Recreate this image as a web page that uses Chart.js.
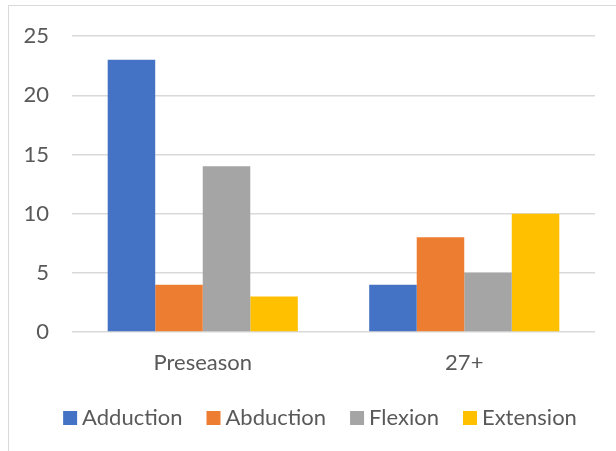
<!DOCTYPE html>
<html>
<head>
<meta charset="utf-8">
<script src="https://cdn.jsdelivr.net/npm/chart.js@4/dist/chart.umd.min.js"></script>
<style>
  html, body { margin: 0; padding: 0; background: #fff; }
  #wrap { position: relative; width: 616px; height: 451px; overflow: hidden; }
  #frame { position: absolute; left: 8px; top: 5px; width: 620px; height: 460px;
           border: 1px solid #d9d9d9; box-sizing: border-box; }
  canvas { position: absolute; left: 0; top: 0; }
</style>
</head>
<body>
<div id="wrap">
  <div id="frame"></div>
  <canvas id="c" width="616" height="451"></canvas>
</div>
<script>
const categories = ["Preseason", "27+"];
const seriesNames = ["Adduction", "Abduction", "Flexion", "Extension"];
const adduction = [23, 4];
const abduction = [4, 8];
const flexion = [14, 5];
const extension = [3, 10];
const seriesColors = ["#4472C4", "#ED7D31", "#A5A5A5", "#FFC000"];

const values = [adduction, abduction, flexion, extension];
const FONT = "Lato, 'Open Sans', sans-serif";
const TEXT = "#595959";

// Legend swatch: a 14px square placed so the label sits close to it.
function swatch(color) {
  const cv = document.createElement("canvas");
  cv.width = 36;
  cv.height = 14;
  const g = cv.getContext("2d");
  g.fillStyle = color;
  g.fillRect(14, 0, 14, 14);
  return cv;
}
const swatches = seriesColors.map(swatch);

const PLOT_BOTTOM = 332;
const PAD_BOTTOM = 12;
const LEGEND_SHIFT = 11;

// Centre the legend on the whole frame rather than on the padded area.
const legendShift = {
  id: "legendShift",
  afterLayout(chart) {
    const lg = chart.legend;
    if (lg) { lg.left += LEGEND_SHIFT; lg.right += LEGEND_SHIFT; }
  }
};

new Chart(document.getElementById("c"), {
  type: "bar",
  data: {
    labels: categories,
    datasets: seriesNames.map((name, i) => ({
      label: name,
      data: values[i],
      backgroundColor: seriesColors[i],
      borderWidth: 0,
      categoryPercentage: 0.727,
      barPercentage: 1.0
    }))
  },
  plugins: [legendShift],
  options: {
    responsive: false,
    animation: false,
    layout: { padding: { left: 23, right: 21, top: 21, bottom: PAD_BOTTOM } },
    plugins: {
      legend: {
        position: "bottom",
        labels: {
          font: { family: FONT, size: 22 },
          color: TEXT,
          usePointStyle: true,
          boxWidth: 8,
          boxHeight: 14,
          padding: 24,
          generateLabels(chart) {
            const items = Chart.defaults.plugins.legend.labels.generateLabels(chart);
            items.forEach((it, i) => { it.pointStyle = swatches[i]; });
            return items;
          }
        }
      },
      tooltip: { enabled: false }
    },
    scales: {
      x: {
        grid: { display: false },
        border: { display: false },
        ticks: { font: { family: FONT, size: 22 }, color: TEXT, padding: 10 },
        afterFit(scale) {
          const c = scale.chart;
          scale.height = c.height - PAD_BOTTOM - c.legend.height - PLOT_BOTTOM;
        }
      },
      y: {
        min: 0,
        max: 25,
        ticks: { stepSize: 5, font: { family: FONT, size: 22 }, color: TEXT, padding: 23 },
        grid: { color: "#d9d9d9", lineWidth: 1.5, drawTicks: false },
        border: { display: false },
        afterFit(scale) { scale.width = 49; }
      }
    }
  }
});
</script>
</body>
</html>
